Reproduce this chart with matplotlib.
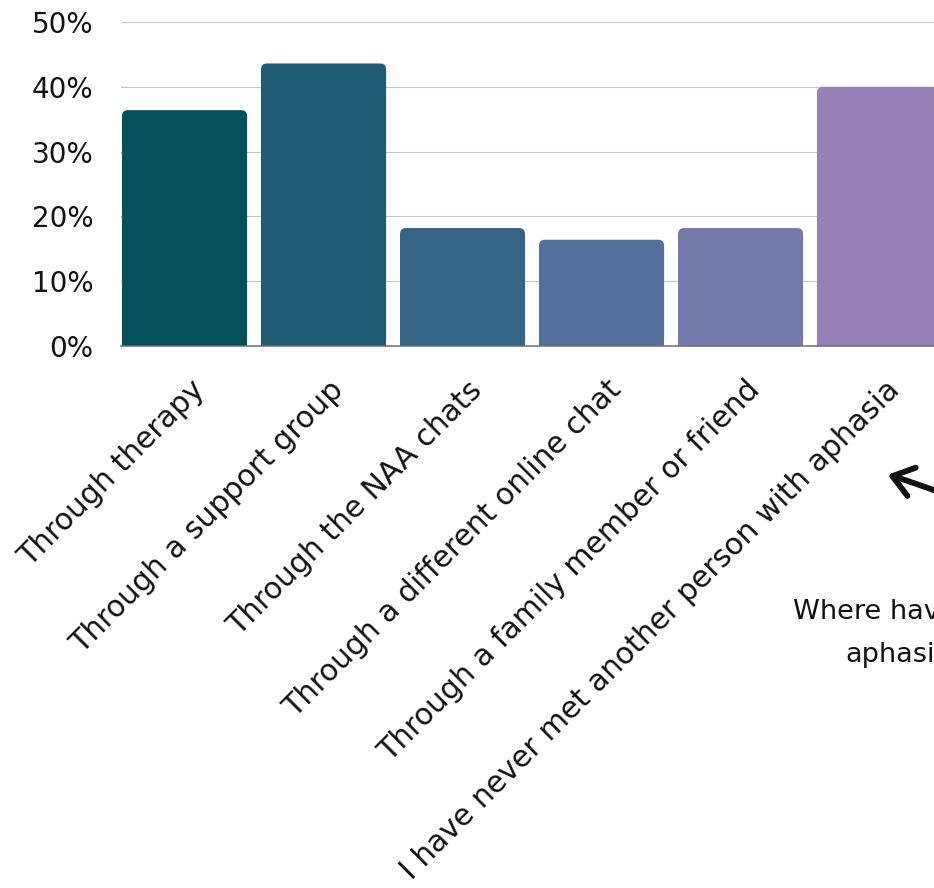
import matplotlib
matplotlib.use("Agg")
import matplotlib.pyplot as plt
from matplotlib.patches import FancyBboxPatch, FancyArrowPatch
from matplotlib.transforms import ScaledTranslation

plt.rcParams.update({
    "font.family": ["DejaVu Sans"],
    "font.size": 20,
})

# Survey responses (share of respondents, %)
categories = [
    "Through therapy",
    "Through a support group",
    "Through the NAA chats",
    "Through a different online chat",
    "Through a family member or friend",
    "I have never met another person with aphasia",
]
shares = [36.4, 43.6, 18.2, 16.4, 18.2, 40.0]
bar_colors = ["#04505c", "#1f5b73", "#356586", "#52709c", "#7479aa", "#9580b6"]
y_ticks = [0, 10, 20, 30, 40, 50]
y_tick_labels = ["0%", "10%", "20%", "30%", "40%", "50%"]

W, H, DPI = 934, 888, 100
fig = plt.figure(figsize=(W / DPI, H / DPI), dpi=DPI)

# axes placed in pixel terms; it runs past the right edge of the canvas
left_px, right_px, top_px, bot_px = 121, 1200, 22, 346
ax = fig.add_axes([left_px / W, (H - bot_px) / H,
                   (right_px - left_px) / W, (bot_px - top_px) / H])

pitch_px = 139.0
x_min = -0.45 - 1.0 / pitch_px
ax.set_xlim(x_min, x_min + (right_px - left_px) / pitch_px)
ax.set_ylim(0, 50)

xs = list(range(len(shares)))
bars = ax.bar(xs, shares, width=0.9, color="none", edgecolor="none")

# rounded top corners, square bottom
px_per_y = (bot_px - top_px) / 50.0
radius_x = 6.0 / pitch_px
aspect = pitch_px / px_per_y
for rect, color in zip(bars, bar_colors):
    x0, w, h = rect.get_x(), rect.get_width(), rect.get_height()
    ax.add_patch(FancyBboxPatch((x0, 0), w, h,
                                boxstyle=f"round,pad=0,rounding_size={radius_x}",
                                mutation_aspect=aspect, facecolor=color,
                                edgecolor="none", zorder=2))
    ax.add_patch(plt.Rectangle((x0, 0), w, h / 2, facecolor=color,
                               edgecolor="none", zorder=2))

ax.set_yticks(y_ticks)
ax.set_yticklabels(y_tick_labels, fontsize=20, color="#111111")
ax.yaxis.grid(True, color="#c4c4c4", linewidth=0.8, zorder=0)
ax.set_axisbelow(True)
ax.tick_params(axis="y", length=0, pad=20)

ax.set_xticks(xs)
ax.set_xticklabels(categories, rotation=45, ha="right", va="top",
                   rotation_mode="anchor", fontsize=21.5, color="#111111")
ax.tick_params(axis="x", length=0, pad=21)
shift = ScaledTranslation(5 / DPI, 0, fig.dpi_scale_trans)
for lbl in ax.get_xticklabels():
    lbl.set_transform(lbl.get_transform() + shift)

for side in ["top", "right", "left"]:
    ax.spines[side].set_visible(False)
ax.spines["bottom"].set_color("#6e6e6e")
ax.spines["bottom"].set_linewidth(1.1)

# side note and pointer arrow
fig.text(793 / W, (H - 619) / H, "Where have you met other people with",
         fontsize=19.5, color="#111111", ha="left", va="baseline")
fig.text(845 / W, (H - 662) / H, "aphasia?",
         fontsize=19.5, color="#111111", ha="left", va="baseline")
arrow = FancyArrowPatch((1000 / W, (H - 520) / H), (885 / W, (H - 474) / H),
                        transform=fig.transFigure,
                        connectionstyle="arc3,rad=0.05",
                        arrowstyle="->,head_length=0.72,head_width=0.53",
                        mutation_scale=20, linewidth=4.2, color="#111111",
                        capstyle="round", joinstyle="round")
fig.add_artist(arrow)

fig.savefig("out.png", dpi=DPI)
